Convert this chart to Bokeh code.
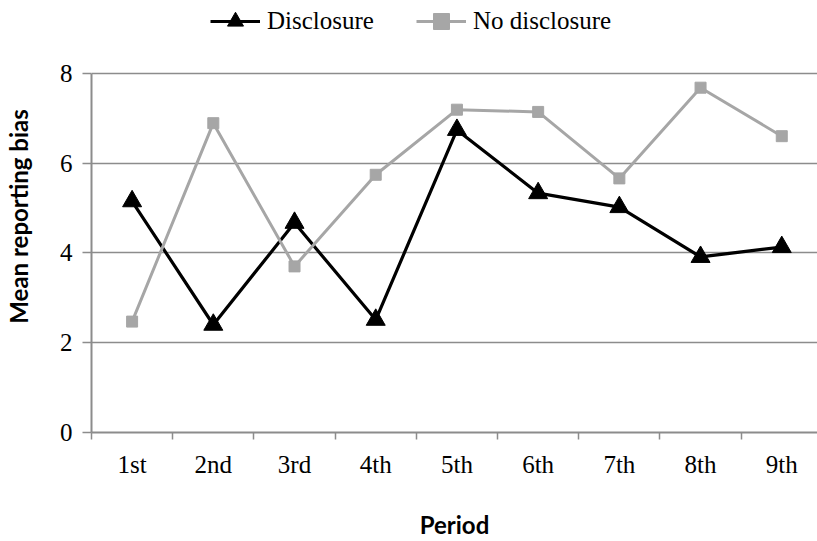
from bokeh.plotting import figure
from bokeh.models import Range1d, FixedTicker, Legend, LegendItem, ColumnDataSource
from bokeh.embed import file_html
from bokeh.resources import INLINE

periods = ["1st", "2nd", "3rd", "4th", "5th", "6th", "7th", "8th", "9th"]
disclosure = [5.15, 2.40, 4.67, 2.51, 6.74, 5.33, 5.02, 3.91, 4.13]
no_disclosure = [2.47, 6.89, 3.70, 5.74, 7.19, 7.14, 5.66, 7.68, 6.60]
y_ticks = [0, 2, 4, 6, 8]

xpos = [i + 0.5 for i in range(len(periods))]
src = ColumnDataSource(dict(x=xpos, d=disclosure, n=no_disclosure))

AX = "#8c8c8c"
GRAY = "#a6a6a6"
SERIF = "Liberation Serif"

# frame spans the full top of the figure so the legend can sit above the "8" gridline
p = figure(width=817, height=541,
           x_range=Range1d(0, 8.94), y_range=Range1d(0, 9.622),
           output_backend="svg", toolbar_location=None,
           min_border_left=91, min_border_right=0,
           min_border_top=0, min_border_bottom=108)
p.outline_line_color = None
p.background_fill_color = "white"
p.border_fill_color = "white"

p.xgrid.visible = False
p.ygrid.grid_line_color = AX
p.ygrid.grid_line_width = 1.3
p.ygrid.ticker = FixedTicker(ticks=y_ticks)

# x axis
p.xaxis.ticker = FixedTicker(ticks=xpos, minor_ticks=list(range(len(periods) + 1)))
p.xaxis.major_label_overrides = {x: lab for x, lab in zip(xpos, periods)}
p.xaxis.major_tick_line_color = None
p.xaxis.major_tick_in = 0
p.xaxis.major_tick_out = 0
p.xaxis.minor_tick_in = 0
p.xaxis.minor_tick_out = 7
p.xaxis.minor_tick_line_color = AX
p.xaxis.minor_tick_line_width = 1.5
p.xaxis.axis_line_color = AX
p.xaxis.axis_line_width = 2
p.xaxis.major_label_standoff = 11
p.xaxis.major_label_text_font = SERIF
p.xaxis.major_label_text_font_size = "25px"
p.xaxis.major_label_text_color = "black"
p.xaxis.axis_label = "Period"
p.xaxis.axis_label_text_font = "Lato"
p.xaxis.axis_label_text_font_style = "bold"
p.xaxis.axis_label_text_font_size = "24px"
p.xaxis.axis_label_standoff = 29
p.xaxis.axis_label_text_color = "black"

# y axis
p.yaxis.ticker = FixedTicker(ticks=y_ticks)
p.yaxis.bounds = (min(y_ticks), max(y_ticks))
p.yaxis.minor_tick_line_color = None
p.yaxis.major_tick_in = 0
p.yaxis.major_tick_out = 9
p.yaxis.major_tick_line_color = AX
p.yaxis.major_tick_line_width = 1.5
p.yaxis.axis_line_color = AX
p.yaxis.axis_line_width = 2
p.yaxis.major_label_standoff = 10
p.yaxis.major_label_text_font = SERIF
p.yaxis.major_label_text_font_size = "25px"
p.yaxis.major_label_text_color = "black"
p.yaxis.axis_label = "Mean reporting bias"
p.yaxis.axis_label_text_font = "Lato"
p.yaxis.axis_label_text_font_style = "bold"
p.yaxis.axis_label_text_font_size = "24px"
p.yaxis.axis_label_standoff = 24
p.yaxis.axis_label_text_color = "black"

l1 = p.line("x", "d", source=src, line_color="black", line_width=3.2)
m1 = p.scatter("x", "d", source=src, marker="triangle", size=19,
               fill_color="black", line_color="black", line_width=1)
l2 = p.line("x", "n", source=src, line_color=GRAY, line_width=3)
m2 = p.scatter("x", "n", source=src, marker="square", size=11,
               fill_color=GRAY, line_color=GRAY, line_width=1)

legend = Legend(items=[LegendItem(label="Disclosure", renderers=[l1, m1]),
                       LegendItem(label="No disclosure", renderers=[l2, m2])],
                orientation="horizontal", location=(119, 391),
                padding=0, margin=0, spacing=42,
                glyph_width=50, glyph_height=40, label_standoff=7,
                label_text_font=SERIF, label_text_font_size="25px",
                label_text_color="black",
                border_line_color=None, background_fill_alpha=0)
p.add_layout(legend, "center")

open("out.html", "w").write(file_html(p, INLINE))
